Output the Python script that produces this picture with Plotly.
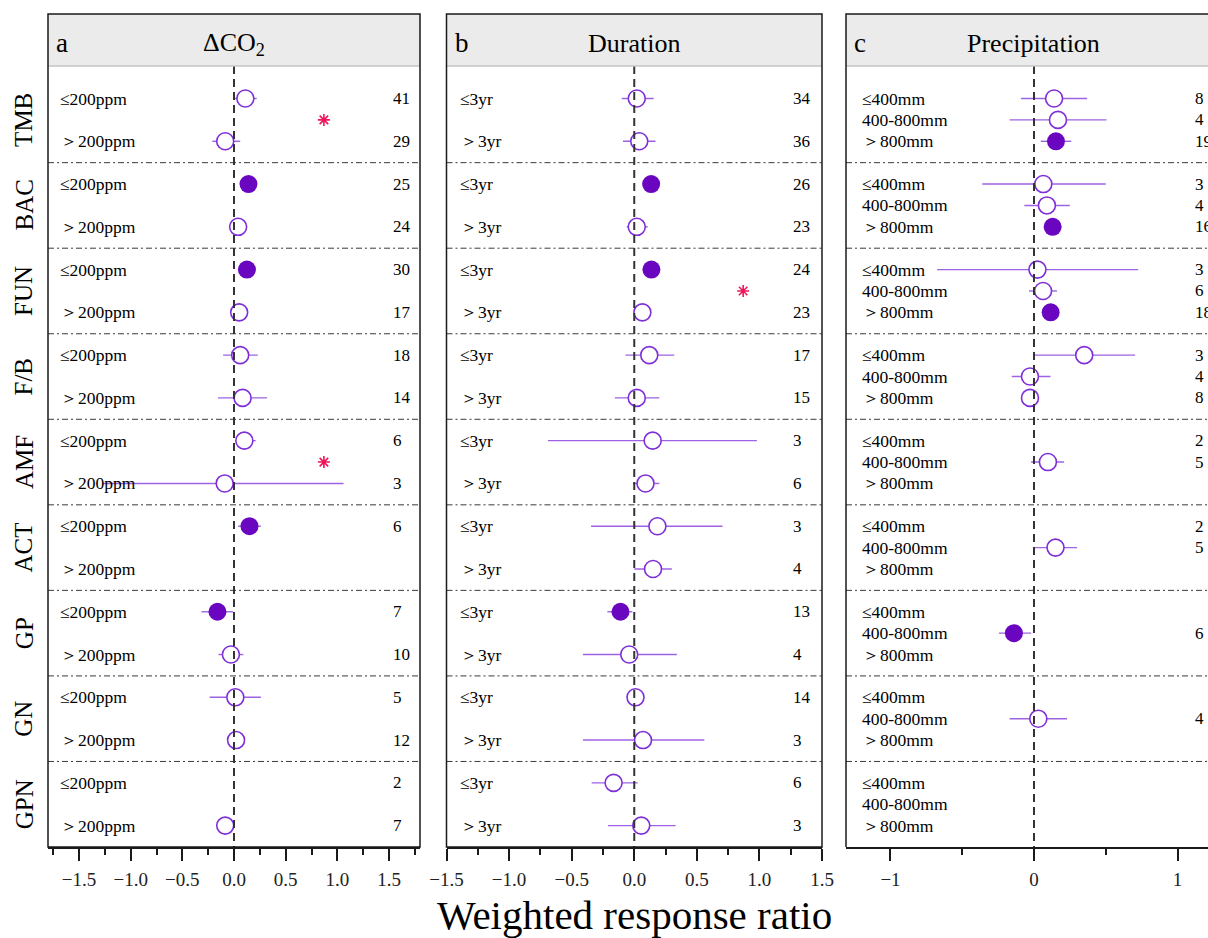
import plotly.graph_objects as go

# ---------------- data ----------------
groups = ["TMB", "BAC", "FUN", "F/B", "AMF", "ACT", "GP", "GN", "GPN"]

co2_labels = ["≤200ppm", "＞200ppm"]
co2_mean = [[0.11, -0.085], [0.14, 0.04], [0.125, 0.05], [0.06, 0.083], [0.10, -0.09],
            [0.15, None], [-0.16, -0.03], [0.013, 0.02], [None, -0.085]]
co2_lo = [[0.0, -0.21], [0.07, -0.02], [0.06, -0.01], [-0.105, -0.155], [0.015, -1.27],
          [0.04, None], [-0.315, -0.15], [-0.235, -0.04], [None, -0.14]]
co2_hi = [[0.22, 0.06], [0.21, 0.10], [0.19, 0.11], [0.23, 0.32], [0.21, 1.06],
          [0.26, None], [-0.01, 0.09], [0.26, 0.08], [None, -0.03]]
co2_n = [[41, 29], [25, 24], [30, 17], [18, 14], [6, 3], [6, None], [7, 10], [5, 12], [2, 7]]
co2_sig = [[0, 0], [1, 0], [1, 0], [0, 0], [0, 0], [1, 0], [1, 0], [0, 0], [0, 0]]
co2_star_groups = ["TMB", "AMF"]

dur_labels = ["≤3yr", "＞3yr"]
dur_mean = [[0.02, 0.04], [0.135, 0.02], [0.137, 0.065], [0.12, 0.02], [0.147, 0.09],
            [0.185, 0.15], [-0.11, -0.04], [0.01, 0.07], [-0.165, 0.056]]
dur_lo = [[-0.10, -0.09], [0.07, -0.06], [0.07, 0.0], [-0.07, -0.155], [-0.69, -0.01],
          [-0.345, 0.0], [-0.215, -0.41], [-0.05, -0.41], [-0.34, -0.21]]
dur_hi = [[0.155, 0.17], [0.20, 0.107], [0.20, 0.13], [0.32, 0.20], [0.98, 0.20],
          [0.705, 0.30], [-0.015, 0.34], [0.07, 0.56], [0.027, 0.33]]
dur_n = [[34, 36], [26, 23], [24, 23], [17, 15], [3, 6], [3, 4], [13, 4], [14, 3], [6, 3]]
dur_sig = [[0, 0], [1, 0], [1, 0], [0, 0], [0, 0], [0, 0], [1, 0], [0, 0], [0, 0]]
dur_star_groups = ["FUN"]

prec_labels = ["≤400mm", "400-800mm", "＞800mm"]
prec_mean = [[0.14, 0.167, 0.153], [0.065, 0.09, 0.13], [0.024, 0.063, 0.116],
             [0.35, -0.028, -0.028], [None, 0.097, None], [None, 0.15, None],
             [None, -0.14, None], [None, 0.03, None], [None, None, None]]
prec_lo = [[-0.09, -0.17, 0.047], [-0.36, -0.067, 0.07], [-0.675, -0.035, 0.06],
           [0.0, -0.155, -0.08], [None, -0.02, None], [None, 0.0, None],
           [None, -0.245, None], [None, -0.17, None], [None, None, None]]
prec_hi = [[0.37, 0.505, 0.26], [0.50, 0.25, 0.19], [0.726, 0.16, 0.17],
           [0.705, 0.115, 0.02], [None, 0.21, None], [None, 0.30, None],
           [None, -0.02, None], [None, 0.23, None], [None, None, None]]
prec_n = [[8, 4, 19], [3, 4, 16], [3, 6, 18], [3, 4, 8], [2, 5, None], [2, 5, None],
          [None, 6, None], [None, 4, None], [None, None, None]]
prec_sig = [[0, 0, 1], [0, 0, 1], [0, 0, 1], [0, 0, 0], [0, 0, 0], [0, 0, 0],
            [0, 1, 0], [0, 0, 0], [0, 0, 0]]
prec_star_groups = []

panel_letters = ["a", "b", "c"]
panel_titles = ["ΔCO<sub>2</sub>", "Duration", "Precipitation"]
x_title = "Weighted response ratio"
star_x = 0.87

# ---------------- layout constants ----------------
W, H = 1208, 938
FONT = "Liberation Serif"
HOLLOW = "#7F2FD8"
FILLED = "#6A06BF"
BAR = "#9E62E4"
STAR = "#F0145A"

px = lambda v: v / W
py = lambda v: 1 - v / H

dom_x = [(48, 420), (446.5, 822), (846, 1208)]
x_ranges = [[-1.8, 1.8], [-1.5, 1.5], [-1.31, 1.2125]]
y_top_px, y_bot_px, head_top_px = 66, 847, 14
y_range = [9, -0.13]

label_x = [-1.70, -1.405, -1.21]      # row label positions (data units)
count_x = [1.52, 1.25, 1.105]         # sample-size positions (data units)

panels = [
    (co2_labels, co2_mean, co2_lo, co2_hi, co2_n, co2_sig, co2_star_groups),
    (dur_labels, dur_mean, dur_lo, dur_hi, dur_n, dur_sig, dur_star_groups),
    (prec_labels, prec_mean, prec_lo, prec_hi, prec_n, prec_sig, prec_star_groups),
]

fig = go.Figure()
annotations = []
shapes = []

for p, (labels, mean, lo, hi, ns, sig, stars) in enumerate(panels):
    xa = "x" if p == 0 else f"x{p+1}"
    ya = "y" if p == 0 else f"y{p+1}"
    nl = len(labels)
    offs = [0.25, 0.75] if nl == 2 else [0.25, 0.5, 0.75]
    for filled in (0, 1):
        xs, ys, ep, em = [], [], [], []
        for g in range(len(groups)):
            for k in range(nl):
                m = mean[g][k]
                if m is None or sig[g][k] != filled:
                    continue
                xs.append(m)
                ys.append(g + offs[k])
                ep.append(hi[g][k] - m)
                em.append(m - lo[g][k])
        fig.add_trace(go.Scatter(
            x=xs, y=ys, xaxis=xa, yaxis=ya, mode="markers", showlegend=False,
            marker=dict(size=18 if filled else 17, symbol="circle",
                        color=FILLED if filled else "white",
                        line=dict(width=0 if filled else 1.6, color=HOLLOW)),
            error_x=dict(type="data", symmetric=False, array=ep, arrayminus=em,
                         thickness=1.4, width=0, color=BAR),
        ))
    # significance stars
    sy = [groups.index(s) + 0.5 for s in stars]
    if sy:
        fig.add_trace(go.Scatter(
            x=[star_x] * len(sy), y=sy, xaxis=xa, yaxis=ya, mode="markers",
            showlegend=False,
            marker=dict(symbol="asterisk-open", size=10, color=STAR,
                        line=dict(width=1.6, color=STAR)),
        ))
    # row labels and counts
    for g in range(len(groups)):
        for k in range(nl):
            annotations.append(dict(x=label_x[p], y=g + offs[k], xref=xa, yref=ya,
                                    text=labels[k], showarrow=False, xanchor="left",
                                    yanchor="middle",
                                    font=dict(family=FONT, size=17.5, color="black")))
            if ns[g][k] is not None:
                annotations.append(dict(x=count_x[p], y=g + offs[k], xref=xa, yref=ya,
                                        text=str(ns[g][k]), showarrow=False,
                                        xanchor="left", yanchor="middle",
                                        font=dict(family=FONT, size=17, color="black")))
    # separators between groups
    for g in range(1, len(groups)):
        shapes.append(dict(type="line", xref=f"{xa} domain", yref=ya, x0=0, x1=1, y0=g, y1=g,
                           line=dict(color="#3a3a3a", width=1, dash="6px,3px,2px,3px")))
    # zero line
    shapes.append(dict(type="line", xref=xa, yref=ya, x0=0, x1=0, y0=y_range[1], y1=y_range[0],
                       line=dict(color="#333333", width=2, dash="8px,5px")))
    # header strip
    x0p, x1p = px(dom_x[p][0]), px(dom_x[p][1])
    shapes.append(dict(type="rect", xref="paper", yref="paper", x0=x0p, x1=x1p,
                       y0=py(y_top_px), y1=py(head_top_px), fillcolor="#EBEBEB",
                       line=dict(width=0), layer="below"))
    shapes.append(dict(type="line", xref="paper", yref="paper", x0=x0p, x1=x1p,
                       y0=py(y_top_px), y1=py(y_top_px), line=dict(color="#C4C4C4", width=1.5)))
    # panel border
    if p < 2:
        shapes.append(dict(type="rect", xref="paper", yref="paper", x0=x0p, x1=x1p,
                           y0=py(y_bot_px), y1=py(head_top_px),
                           line=dict(color="#1a1a1a", width=1.5)))
    else:
        shapes.append(dict(type="path", xref="paper", yref="paper",
                           path=f"M {x1p} {py(head_top_px)} L {x0p} {py(head_top_px)} L {x0p} {py(y_bot_px)}",
                           line=dict(color="#1a1a1a", width=1.5)))
    # header texts
    annotations.append(dict(x=px(dom_x[p][0] + 6), y=py(43), xref="paper", yref="paper",
                            text=panel_letters[p], showarrow=False, xanchor="left",
                            yanchor="middle", font=dict(family=FONT, size=27, color="black")))
    annotations.append(dict(x=px((dom_x[p][0] + (dom_x[p][1] if p < 2 else 1220)) / 2),
                            y=py(44), xref="paper", yref="paper",
                            text=panel_titles[p], showarrow=False, xanchor="center",
                            yanchor="middle", font=dict(family=FONT, size=26, color="black")))

# group names (y-axis labels)
for g, name in enumerate(groups):
    annotations.append(dict(x=px(24), y=g + 0.5, xref="paper", yref="y", text=name,
                            showarrow=False, textangle=-90, xanchor="center", yanchor="middle",
                            font=dict(family=FONT, size=25, color="black")))

annotations.append(dict(x=px(634), y=py(915), xref="paper", yref="paper", text=x_title,
                        showarrow=False, xanchor="center", yanchor="middle",
                        font=dict(family=FONT, size=41, color="black")))

layout = dict(
    width=W, height=H, margin=dict(l=0, r=0, t=0, b=0, autoexpand=False),
    paper_bgcolor="white", plot_bgcolor="white",
    annotations=annotations, shapes=shapes, showlegend=False,
)
ticks = [dict(dtick=0.5, minor=0.25, fmt=".1f"), dict(dtick=0.5, minor=0.25, fmt=".1f"),
         dict(dtick=1, minor=0.5, fmt="d")]
for p in range(3):
    xk = "xaxis" if p == 0 else f"xaxis{p+1}"
    yk = "yaxis" if p == 0 else f"yaxis{p+1}"
    xa = "x" if p == 0 else f"x{p+1}"
    ya = "y" if p == 0 else f"y{p+1}"
    layout[xk] = dict(domain=[px(dom_x[p][0]), min(1, px(dom_x[p][1]))], range=x_ranges[p],
                      anchor=ya, showgrid=False, zeroline=False, showline=True, automargin=False,
                      linecolor="#1a1a1a", linewidth=2, ticks="outside", ticklen=12,
                      tickwidth=2, tickcolor="#1a1a1a", tick0=0, dtick=ticks[p]["dtick"],
                      tickformat=ticks[p]["fmt"], ticklabelstandoff=2,
                      minor=dict(dtick=ticks[p]["minor"], ticklen=6, tickwidth=2,
                                 tickcolor="#1a1a1a", ticks="outside", showgrid=False),
                      tickfont=dict(family=FONT, size=19, color="#222222"))
    layout[yk] = dict(domain=[py(y_bot_px), py(y_top_px)], range=y_range, anchor=xa,
                      automargin=False, showgrid=False, zeroline=False, showticklabels=False,
                      showline=False, ticks="")

fig.update_layout(**layout)
fig.write_html("out.html", config={"displayModeBar": False},
               post_script="document.body.style.margin='0';document.body.style.overflow='hidden';")
